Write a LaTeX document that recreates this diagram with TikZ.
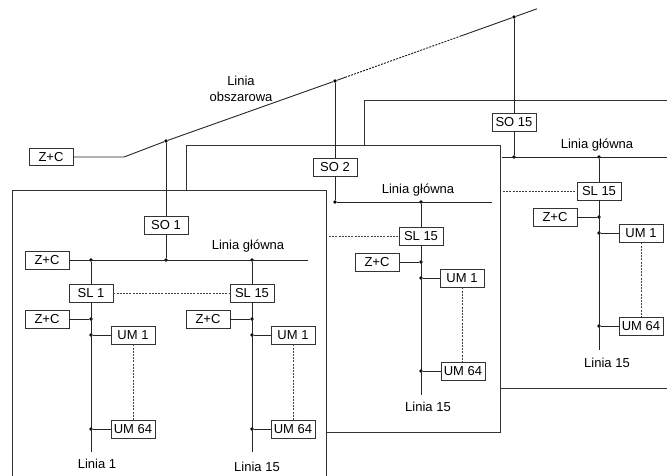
\documentclass[tikz,border=0pt]{standalone}
\usepackage{fontspec}
\setmainfont{Liberation Sans}
\begin{document}
\begin{tikzpicture}[x=1pt,y=-1pt,
 box/.style={draw=black!80, line width=0.9pt, fill=white, minimum width=44pt, minimum height=18pt, inner sep=0pt, font=\fontsize{13}{15}\selectfont},
 wire/.style={draw=black!85, line width=0.9pt},
 dsh/.style={draw=black!75, line width=0.9pt, dash pattern=on 2pt off 1.2pt},
 panel/.style={draw=black!80, line width=0.9pt, fill=white},
 lbl/.style={font=\fontsize{13}{15.5}\selectfont, inner sep=0pt, align=center},
 jn/.style={circle, fill=black, inner sep=0pt, minimum size=3.6pt}
]
\clip (0,0) rectangle (667,475);
\fill[white] (0,0) rectangle (667,475);

% ---------- panel 3 (back) ----------
\path[panel] (364,100) rectangle (700,388);
\node[box] (so15) at (514,122) {SO 15};
\coordinate (p3s) at (502,157);
\coordinate (p3t) at (690,157);
\node[jn] (p3a) at (514,157) {};
\node[jn] (p3b) at (599,157) {};
\draw[wire] (p3s) -- (p3t);
\draw[wire] (so15) -- (p3a);
\node[lbl] (p3lg) at (597,145) {Linia główna};
\node[box] (p3sl) at (599,191) {SL 15};
\coordinate (p3dl) at (503,191);
\draw[dsh] (p3dl) -- (p3sl);
\node[box] (p3zc) at (555,217) {Z+C};
\node[jn] (p3c) at (599,217) {};
\node[box] (p3um1) at (641,233) {UM 1};
\node[jn] (p3d) at (599,233) {};
\node[box] (p3um64) at (641,326) {UM 64};
\node[jn] (p3e) at (599,326) {};
\coordinate (p3end) at (599,350);
\draw[wire] (p3b) -- (p3sl);
\draw[wire] (p3sl) -- (p3end);
\draw[wire] (p3zc) -- (p3c);
\draw[wire] (p3d) -- (p3um1);
\draw[wire] (p3e) -- (p3um64);
\draw[dsh] (p3um1) -- (p3um64);
\node[lbl] (p3lin) at (607,363) {Linia 15};

% ---------- panel 2 ----------
\path[panel] (186,145) rectangle (500,432);
\node[box] (so2) at (335,167) {SO 2};
\node[jn] (p2a) at (335,202) {};
\node[jn] (p2b) at (421,202) {};
\coordinate (p2t) at (492,202);
\draw[wire] (p2a) -- (p2t);
\draw[wire] (so2) -- (p2a);
\node[lbl] (p2lg) at (418,190) {Linia główna};
\node[box] (p2sl) at (421,236) {SL 15};
\coordinate (p2dl) at (329,236);
\draw[dsh] (p2dl) -- (p2sl);
\node[box] (p2zc) at (377,262) {Z+C};
\node[jn] (p2c) at (421,262) {};
\node[box] (p2um1) at (462,278) {UM 1};
\node[jn] (p2d) at (421,278) {};
\node[box] (p2um64) at (463,371) {UM 64};
\node[jn] (p2e) at (421,371) {};
\coordinate (p2end) at (421,395);
\draw[wire] (p2b) -- (p2sl);
\draw[wire] (p2sl) -- (p2end);
\draw[wire] (p2zc) -- (p2c);
\draw[wire] (p2d) -- (p2um1);
\draw[wire] (p2e) -- (p2um64);
\draw[dsh] (p2um1.south) -- (p2um1.south |- p2um64.north);
\node[lbl] (p2lin) at (428,407) {Linia 15};

% ---------- panel 1 (front) ----------
\path[panel] (12,190) rectangle (326,500);
\node[box] (so1) at (166,225) {SO 1};
\node[box] (p1zc) at (47,260) {Z+C};
\coordinate (p1t) at (308,260);
\node[jn] (p1a) at (91,260) {};
\node[jn] (p1m) at (166,260) {};
\node[jn] (p1b) at (252,260) {};
\draw[wire] (p1zc) -- (p1t);
\draw[wire] (so1) -- (p1m);
\node[lbl] (p1lg) at (248,246) {Linia główna};
\node[box] (p1sl1) at (91,293) {SL 1};
\node[box] (p1sl15) at (252,293) {SL 15};
\draw[dsh] (p1sl1) -- (p1sl15);
% left branch
\node[box] (p1zca) at (47,319) {Z+C};
\node[jn] (p1ca) at (91,319) {};
\node[box] (p1um1a) at (133,335) {UM 1};
\node[jn] (p1da) at (91,335) {};
\node[box] (p1um64a) at (133,429) {UM 64};
\node[jn] (p1ea) at (91,429) {};
\coordinate (p1enda) at (91,452);
\draw[wire] (p1a) -- (p1sl1);
\draw[wire] (p1sl1) -- (p1enda);
\draw[wire] (p1zca) -- (p1ca);
\draw[wire] (p1da) -- (p1um1a);
\draw[wire] (p1ea) -- (p1um64a);
\draw[dsh] (p1um1a) -- (p1um64a);
\node[lbl] (p1lin1) at (97,464) {Linia 1};
% right branch
\node[box] (p1zcb) at (208,319) {Z+C};
\node[jn] (p1cb) at (252,319) {};
\node[box] (p1um1b) at (293,335) {UM 1};
\node[jn] (p1db) at (252,335) {};
\node[box] (p1um64b) at (293,429) {UM 64};
\node[jn] (p1eb) at (252,429) {};
\coordinate (p1endb) at (252,452);
\draw[wire] (p1b) -- (p1sl15);
\draw[wire] (p1sl15) -- (p1endb);
\draw[wire] (p1zcb) -- (p1cb);
\draw[wire] (p1db) -- (p1um1b);
\draw[wire] (p1eb) -- (p1um64b);
\draw[dsh] (p1um1b) -- (p1um64b);
\node[lbl] (p1lin15) at (257,467) {Linia 15};

% ---------- area line ----------
\node[box, minimum height=17pt] (zc0) at (51,157) {Z+C};
\coordinate (k) at (124,157);
\node[jn] (a1) at (166,141) {};
\node[jn] (a2) at (335,81) {};
\coordinate (m1) at (345,77.4);
\coordinate (m2) at (460,36.3);
\node[jn] (a3) at (514,17) {};
\coordinate (aend) at (537,8.8);
\draw[wire] (zc0) -- (k) -- (a1) -- (a2) -- (m1);
\draw[dsh, draw=black!90] (m1) -- (m2);
\draw[wire] (m2) -- (a3) -- (aend);
\draw[wire] (a1) -- (so1);
\draw[wire] (a2) -- (so2);
\draw[wire] (a3) -- (so15);
\node[lbl] (lo) at (241,89) {Linia\\obszarowa};
\end{tikzpicture}
\end{document}
